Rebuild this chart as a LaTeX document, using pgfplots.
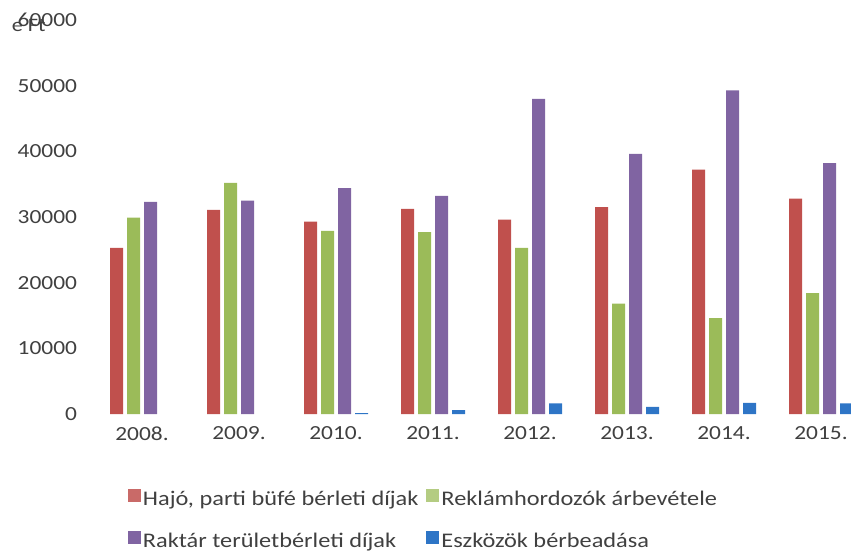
\documentclass[border=0pt]{standalone}
\usepackage{pgfplots}
\pgfplotsset{compat=1.18}
\usepackage{fontspec}
\setmainfont[FakeStretch=1.17]{Carlito}
\definecolor{cred}{RGB}{192,80,77}
\definecolor{cgreen}{RGB}{155,187,89}
\definecolor{cpurple}{RGB}{128,100,162}
\definecolor{cblue}{RGB}{46,117,198}
\definecolor{ctext}{RGB}{64,64,64}
\begin{document}
\begin{tikzpicture}
\path[use as bounding box] (-93.5pt,-140pt) rectangle (757.5pt,414pt);
\begin{axis}[
  scale only axis,
  width=761.5pt, height=394pt,
  xmin=-0.5, xmax=7.35,
  ymin=0, ymax=60000,
  ytick={0,10000,...,60000},
  xtick={0,...,7},
  xticklabels={2008.,2009.,2010.,2011.,2012.,2013.,2014.,2015.},
  axis line style={draw=none},
  major tick length=0pt,
  tick label style={font=\fontsize{20}{24}\selectfont, text=ctext},
  yticklabel style={xshift=-13pt},
  xticklabel style={yshift=-9pt},
  /pgf/number format/assume math mode=true,
  scaled y ticks=false,
  yticklabel={\pgfmathprintnumber[fixed,1000 sep={}]{\tick}},
  ybar, bar width=13pt,
  legend style={draw=none, fill=none, at={(rel axis cs:0.045,-0.27)}, anchor=west,
    font=\fontsize{20.8}{25}\selectfont, text=ctext,
    /tikz/every even column/.append style={column sep=6pt},
    row sep=22pt, inner sep=0pt},
  legend columns=2,
  legend cell align=left,
  legend image code/.code={\fill[#1] (0pt,-3pt) rectangle (13pt,10pt);},
  clip=false,
]
\addplot[fill=cred, draw=none, bar shift=-25.5pt, legend image post style={fill=cred!85}] coordinates {(0,25300) (1,31100) (2,29300) (3,31250) (4,29600) (5,31500) (6,37200) (7,32800)};
\addlegendentry{Hajó, parti büfé bérleti díjak}
\addplot[fill=cgreen, draw=none, bar shift=-8.5pt, legend image post style={fill=cgreen!75}] coordinates {(0,29900) (1,35200) (2,27900) (3,27700) (4,25300) (5,16800) (6,14600) (7,18400)};
\addlegendentry{Reklámhordozók árbevétele}
\addplot[fill=cpurple, draw=none, bar shift=8.5pt] coordinates {(0,32300) (1,32500) (2,34400) (3,33200) (4,48000) (5,39600) (6,49300) (7,38200)};
\addlegendentry{Raktár területbérleti díjak}
\addplot[fill=cblue, draw=none, bar shift=25.5pt] coordinates {(2,150) (3,600) (4,1600) (5,1100) (6,1700) (7,1600)};
\addlegendentry{Eszközök bérbeadása}
\node[font=\fontsize{19}{23}\selectfont, text=ctext, anchor=center] at (rel axis cs:-0.085,0.985) {e Ft};
\end{axis}
\end{tikzpicture}
\end{document}
